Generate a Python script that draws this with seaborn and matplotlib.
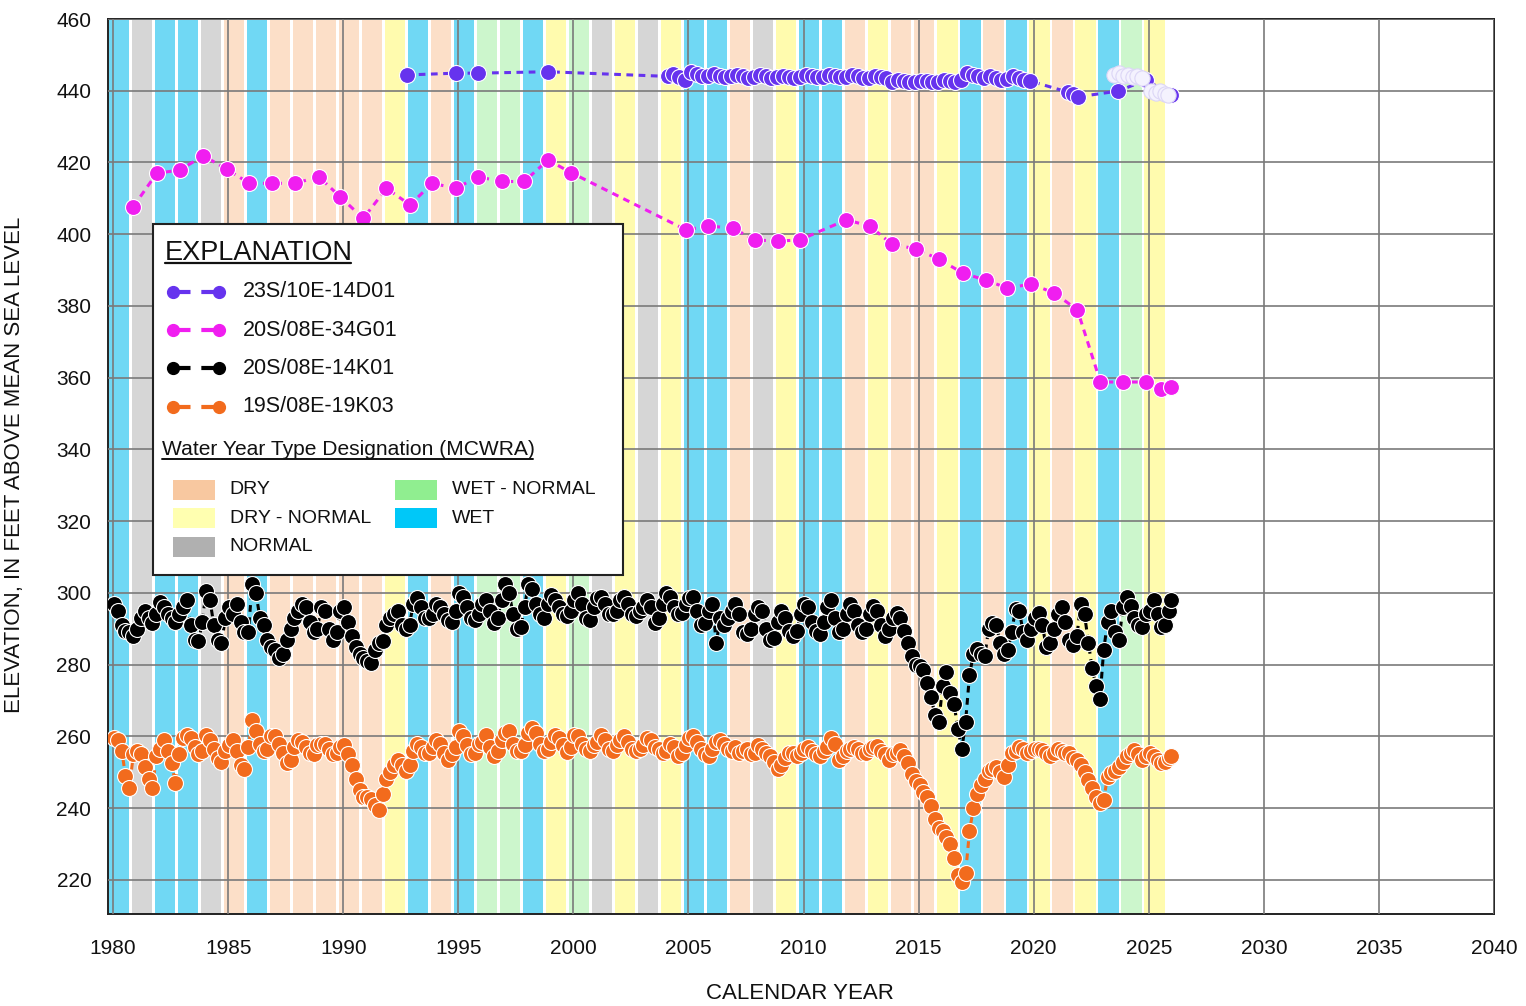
import numpy as np
import pandas as pd
import matplotlib
matplotlib.use("Agg")
import matplotlib.pyplot as plt
from matplotlib.patches import Rectangle
from matplotlib.lines import Line2D
from matplotlib.ticker import MultipleLocator
import seaborn as sns

# ---------------------------------------------------------------------------
# Water-year type designation (MCWRA); a water year N runs Oct (N-1) - Sep N
# ---------------------------------------------------------------------------
water_years = list(range(1980, 2026))
water_year_types = [
    "W", "N", "W", "W", "N", "D", "W", "D", "D", "D",
    "D", "D", "DN", "W", "D", "W", "WN", "WN", "W", "DN",
    "WN", "N", "DN", "N", "DN", "W", "W", "D", "N", "DN",
    "W", "W", "D", "DN", "D", "D", "DN", "W", "D", "W",
    "DN", "D", "DN", "W", "WN", "DN",
]
type_labels = {"D": "DRY", "DN": "DRY - NORMAL", "N": "NORMAL",
               "WN": "WET - NORMAL", "W": "WET"}
swatch_colors = {"D": "#F8C8A0", "DN": "#FFFFB0", "N": "#B0B0B0",
                 "WN": "#90EE90", "W": "#00C8F8"}
band_colors = {"D": "#FCDFC8", "DN": "#FFFBAE", "N": "#D6D6D6",
               "WN": "#CCF6CC", "W": "#70D8F4"}

# ---------------------------------------------------------------------------
# Well 23S/10E-14D01
# ---------------------------------------------------------------------------
d01_early_dates = [1992.75, 1994.89, 1995.86, 1998.90]
d01_early_elev = [444.4, 444.9, 444.9, 445.3]
d01_years = list(range(2004, 2020))
d01_quarter_dates = [0.10, 0.35, 0.60, 0.85]
d01_quarterly = [
    [444.0, 444.6, 443.8, 443.0],  # 2004
    [445.3, 444.8, 444.2, 444.0],  # 2005
    [444.6, 444.2, 443.8, 444.0],  # 2006
    [444.4, 444.0, 443.6, 443.8],  # 2007
    [444.3, 444.0, 443.5, 443.7],  # 2008
    [444.2, 443.8, 443.5, 443.8],  # 2009
    [444.4, 444.1, 443.8, 443.9],  # 2010
    [444.5, 444.2, 443.8, 443.9],  # 2011
    [444.3, 444.0, 443.5, 443.6],  # 2012
    [444.2, 443.8, 443.5, 442.5],  # 2013
    [443.0, 442.6, 442.3, 442.5],  # 2014
    [442.8, 442.6, 442.3, 442.5],  # 2015
    [442.9, 442.7, 442.4, 443.0],  # 2016
    [445.0, 444.5, 444.0, 443.5],  # 2017
    [444.0, 443.5, 443.0, 443.4],  # 2018
    [444.0, 443.5, 443.0, 442.7],  # 2019
]
d01_late_dates = [2021.50, 2021.70, 2021.92, 2023.66, 2024.90, 2025.97]
d01_late_elev = [439.6, 439.0, 438.3, 439.9, 443.0, 438.8]
# provisional readings, shown unfilled
d01_prov_dates = [2023.50, 2023.70, 2023.90, 2024.10, 2024.30, 2024.50, 2024.70,
                  2025.10, 2025.30, 2025.50, 2025.70, 2025.85]
d01_prov_elev = [444.5, 445.0, 444.0, 444.5, 443.8, 444.2, 443.5,
                 440.0, 439.5, 439.8, 439.0, 438.7]

# ---------------------------------------------------------------------------
# Well 20S/08E-34G01 (annual fall readings)
# ---------------------------------------------------------------------------
g01_dates = [1980.88, 1981.90, 1982.91, 1983.92, 1984.94, 1985.92, 1986.89,
             1987.90, 1988.94, 1989.86, 1990.87, 1991.88, 1992.90, 1993.87,
             1994.89, 1995.86, 1996.88, 1997.86, 1998.90, 1999.89, 2004.90,
             2005.84, 2006.93, 2007.88, 2008.88, 2009.83, 2011.86, 2012.87,
             2013.83, 2014.87, 2015.87, 2016.91, 2017.91, 2018.86, 2019.90,
             2020.90, 2021.90, 2022.90, 2023.90, 2024.90, 2025.55, 2025.98]
g01_elev = [407.7, 417.0, 417.9, 421.9, 418.1, 414.2, 414.2, 414.2, 416.0,
            410.5, 404.4, 412.8, 408.2, 414.2, 412.8, 416.0, 414.7, 414.7,
            420.7, 417.2, 401.2, 402.3, 401.7, 398.4, 398.1, 398.4, 404.0,
            402.3, 397.3, 395.9, 393.1, 389.2, 387.2, 385.0, 386.1, 383.6,
            378.9, 358.8, 358.8, 358.8, 356.9, 357.4]

# ---------------------------------------------------------------------------
# Wells 20S/08E-14K01 and 19S/08E-19K03
# bimonthly readings: Jan, Mar, May, Jul, Sep, Nov
# ---------------------------------------------------------------------------
k_years = list(range(1980, 2026))
k_month_dates = [0.04, 0.21, 0.38, 0.54, 0.71, 0.88]
k01_bimonthly = [
    [297, 295, 291, 289.5, 289, 288],        # 1980
    [290, 293, 295, 293, 291.5, 294],        # 1981
    [297.5, 296, 294, 293, 292, 294],        # 1982
    [296, 298, 291, 287, 286.5, 292],        # 1983
    [300.5, 298, 291, 287, 286, 293],        # 1984
    [296, 294, 297, 292, 289, 289],          # 1985
    [302.5, 300, 293, 291, 287, 285],        # 1986
    [284, 282, 283, 287, 290, 293],          # 1987
    [295, 297, 296, 292, 289, 290],          # 1988
    [296, 295, 290, 287, 289, 295],          # 1989
    [296, 292, 288, 285, 283, 282],          # 1990
    [281, 280.5, 284, 286, 286.5, 291],      # 1991
    [293, 294, 295, 291, 290, 291],          # 1992
    [297, 298.5, 296, 293, 293, 294],        # 1993
    [297, 296, 294, 292.5, 292, 295],        # 1994
    [300, 299, 296, 293, 292.5, 294],        # 1995
    [297, 298, 295, 291.5, 293, 298],        # 1996
    [302.5, 300, 294, 290, 290.5, 296],      # 1997
    [302.5, 301, 297, 294, 293, 297],        # 1998
    [299.5, 298, 296, 294, 293.5, 295],      # 1999
    [298, 300, 297, 293, 292.5, 296],        # 2000
    [298.5, 299, 297, 294, 294, 295],        # 2001
    [298, 299, 297, 294, 293.5, 295],        # 2002
    [296, 298, 296, 291.5, 293, 297],        # 2003
    [300, 299, 296, 294, 294.5, 297],        # 2004
    [298.5, 299, 295, 291, 291.5, 295],      # 2005
    [297, 286, 293, 291, 293, 295],          # 2006
    [297, 294, 289, 288.5, 290, 294],        # 2007
    [296, 295, 290, 287, 287.5, 292],        # 2008
    [295, 293, 289.5, 288, 289.5, 294],      # 2009
    [297, 296, 292, 289.5, 288.5, 292],      # 2010
    [296, 298, 293, 289, 290, 294],          # 2011
    [297, 295, 291, 289, 290, 294],          # 2012
    [296.5, 295, 291, 288, 290, 293],        # 2013
    [294.5, 293, 289.5, 286, 282.5, 280],    # 2014
    [279.5, 278.5, 274.8, 271, 266, 264],    # 2015
    [274, 278, 272, 269, 262, 256.5],        # 2016
    [264, 277, 283, 284.5, 283, 282.5],      # 2017
    [290, 291.5, 291, 286, 283, 284],        # 2018
    [289, 295.5, 295, 289, 287, 290],        # 2019
    [293, 294.5, 291, 285, 286, 290],        # 2020
    [294, 296, 292, 287, 285.5, 288],        # 2021
    [297, 294, 286, 279, 274, 270.5],        # 2022
    [284, 292, 295, 289, 287, 296],          # 2023
    [299, 296.5, 293, 291, 290.5, 294],      # 2024
    [295, 298, 294, 290.5, 291, 295],        # 2025
]
k01_last = (2025.98, 298.0)

k03_bimonthly = [
    [259.5, 259, 256, 249, 245.5, 255],      # 1980
    [256, 255, 251.5, 248, 245.5, 254.5],    # 1981
    [256.5, 259, 256, 252.5, 247, 255],      # 1982
    [259.5, 260.5, 259.5, 257, 255, 256],    # 1983
    [260.5, 259, 256.5, 254, 253, 256],      # 1984
    [257.5, 259, 256, 252, 251, 257],        # 1985
    [264.5, 261.5, 258, 256, 256.5, 260],    # 1986
    [260, 258, 255.5, 252.5, 253.5, 257],    # 1987
    [259, 258.5, 257, 255.3, 255, 257.5],    # 1988
    [258, 258, 256.5, 255, 255.5, 257],      # 1989
    [257.5, 255, 252, 248, 245, 243],        # 1990
    [243, 242.5, 241, 239.5, 244, 248],      # 1991
    [250, 252, 253.5, 252, 250.5, 252],      # 1992
    [256, 258, 257, 255.5, 255.5, 257],      # 1993
    [259, 258, 255.5, 253.5, 255, 257],      # 1994
    [261.5, 260, 257.5, 255, 255.5, 258],    # 1995
    [258.5, 260.5, 257, 254.5, 256, 259],    # 1996
    [261, 261.5, 258, 256, 256, 257.5],      # 1997
    [261, 262.3, 261, 258, 256, 256.5],      # 1998
    [258.5, 260.5, 259.5, 257.5, 255.8, 257],  # 1999
    [260.5, 260, 258, 256.5, 256, 257.5],    # 2000
    [258.5, 260.5, 259, 256.5, 256, 257.5],  # 2001
    [259, 260, 258.5, 256.5, 256, 256.5],    # 2002
    [257.5, 259.5, 259, 257, 256.5, 255.5],  # 2003
    [256, 258, 257, 254.5, 255.5, 257.5],    # 2004
    [259.5, 260, 258.5, 256.5, 255, 254.5],  # 2005
    [256.5, 258.5, 259, 258, 256.5, 256],    # 2006
    [257, 255.5, 256, 256.5, 255, 255.5],    # 2007
    [257.5, 256.5, 255.5, 254.5, 253, 251],  # 2008
    [252, 254, 255.3, 255.5, 254.5, 255.5],  # 2009
    [256.5, 257, 256, 255, 254.5, 256],      # 2010
    [257, 259.5, 258, 253.5, 254.5, 256],    # 2011
    [256.5, 257, 256.5, 255.5, 255.3, 256.5],  # 2012
    [257, 257.2, 256, 255, 253.5, 255],      # 2013
    [255.5, 256.2, 254.5, 252.5, 249.5, 247.5],  # 2014
    [246.5, 244.5, 243, 240.5, 237, 234.5],  # 2015
    [233.5, 232, 230, 226, 221.5, 219.5],    # 2016
    [221.8, 233.5, 240, 244, 246.5, 248],    # 2017
    [250.5, 251, 251.6, 250, 248.8, 252],    # 2018
    [255.3, 256, 257, 256.5, 255.5, 256],    # 2019
    [256.5, 256.5, 256.2, 255.5, 254.5, 255.5],  # 2020
    [256.5, 256, 255.5, 255.3, 254, 253.5],  # 2021
    [252, 250, 247.9, 245.5, 243, 241.5],    # 2022
    [242.3, 248.8, 249.7, 250.5, 251.6, 253],  # 2023
    [254.5, 255.5, 256.2, 255, 253.5, 254.5],  # 2024
    [255.3, 254.5, 253.5, 252.5, 253, 254],  # 2025
]
k03_last = (2025.98, 254.5)

series_names = ["23S/10E-14D01", "20S/08E-34G01", "20S/08E-14K01", "19S/08E-19K03"]
series_colors = ["#6633EE", "#F01EF0", "#000000", "#F26B1D"]


def periodic_frame(years, offsets, table, last=None):
    dates, elev = [], []
    for yr, row in zip(years, table):
        for off, val in zip(offsets, row):
            dates.append(yr + off)
            elev.append(val)
    if last is not None:
        dates.append(last[0])
        elev.append(last[1])
    return pd.DataFrame({"date": dates, "elev": elev})


d01 = pd.concat([
    pd.DataFrame({"date": d01_early_dates, "elev": d01_early_elev}),
    periodic_frame(d01_years, d01_quarter_dates, d01_quarterly),
    pd.DataFrame({"date": d01_late_dates, "elev": d01_late_elev}),
], ignore_index=True)
g01 = pd.DataFrame({"date": g01_dates, "elev": g01_elev})
k01 = periodic_frame(k_years, k_month_dates, k01_bimonthly, k01_last)
k03 = periodic_frame(k_years, k_month_dates, k03_bimonthly, k03_last)
d01_prov = pd.DataFrame({"date": d01_prov_dates, "elev": d01_prov_elev})

# ---------------------------------------------------------------------------
# Figure
# ---------------------------------------------------------------------------
sns.set_theme(style="white")
plt.rcParams["font.family"] = ["Liberation Sans", "DejaVu Sans"]

fig = plt.figure(figsize=(15.26, 10.06), dpi=100)
ax = fig.add_axes([108 / 1526, 1 - 914 / 1006, 1386 / 1526, 895 / 1006])
ax.set_xlim(1979.78, 2040)
ax.set_ylim(210.5, 460)

# water-year bands
gap = 0.06
for wy, wtype in zip(water_years, water_year_types):
    ax.axvspan(wy - 0.25 + gap, wy + 0.75 - gap, color=band_colors[wtype],
               lw=0, zorder=0)

# grid
ax.xaxis.set_major_locator(MultipleLocator(5))
ax.xaxis.set_minor_locator(MultipleLocator(1))
ax.yaxis.set_major_locator(MultipleLocator(20))
ax.yaxis.set_minor_locator(MultipleLocator(4))
ax.grid(True, which="major", color="#7a7a7a", lw=1.2, zorder=1)
ax.set_axisbelow(False)
for gl in ax.get_xgridlines() + ax.get_ygridlines():
    gl.set_zorder(1)

line_kw = dict(marker="o", markersize=11.5, markeredgecolor="white",
               markeredgewidth=0.8, linestyle=(0, (2.2, 1.8)), linewidth=2.2,
               estimator=None, sort=True)
for df, col, z in [(k03, series_colors[3], 3), (k01, series_colors[2], 3),
                   (g01, series_colors[1], 4), (d01, series_colors[0], 4)]:
    sns.lineplot(data=df, x="date", y="elev", color=col, ax=ax, zorder=z, **line_kw)

sns.scatterplot(data=d01_prov, x="date", y="elev", ax=ax, s=120,
                facecolor="#F4F2FE", edgecolor="#DCD6F6", linewidth=0.8, zorder=4)

# axes styling
for side in ["left", "bottom", "right", "top"]:
    ax.spines[side].set_color("#222222")
    ax.spines[side].set_linewidth(1.4)
ax.tick_params(axis="both", which="major", direction="out", length=8, width=1.2,
               color="#222222", labelsize=15, pad=4, labelcolor="#111111")
ax.tick_params(axis="x", which="major", pad=10)
ax.tick_params(axis="both", which="minor", direction="out", length=5, width=1.0,
               color="#222222")
ax.set_xlabel("CALENDAR YEAR", fontsize=16, color="#111111")
ax.set_ylabel("ELEVATION, IN FEET ABOVE MEAN SEA LEVEL", fontsize=16,
              color="#111111")
ax.xaxis.set_label_coords(0.4993, -0.077)
ax.yaxis.set_label_coords(-0.0599, 0.5017)


# ---------------------------------------------------------------------------
# Explanation box (positions in axes fraction)
# ---------------------------------------------------------------------------
def fx(px):
    return (px - 108) / 1386


def fy(py):
    return 1 - (py - 19) / 895


box = Rectangle((fx(153), fy(575)), fx(623) - fx(153), fy(224) - fy(575),
                transform=ax.transAxes, facecolor="white", edgecolor="#222222",
                lw=1.5, zorder=10)
ax.add_patch(box)
ax.text(fx(165), fy(260), "EXPLANATION", transform=ax.transAxes, fontsize=19.5,
        va="baseline", ha="left", color="#111111", zorder=11)
ax.add_line(Line2D([fx(165), fx(351)], [fy(263), fy(263)], transform=ax.transAxes,
                   color="#111111", lw=1.6, zorder=11))

row_y = [291.7, 330, 368.3, 406.7]
for name, col, py in zip(series_names, series_colors, row_y):
    ax.add_line(Line2D([fx(172.7), fx(219.3)], [fy(py), fy(py)],
                       transform=ax.transAxes, color=col, lw=3,
                       linestyle=(0, (1.0, 0.0, 3.2, 2.6)), marker="o",
                       markersize=8.5, markeredgecolor=col, zorder=11))
    ax.text(fx(242.7), fy(py), name, transform=ax.transAxes, fontsize=15.5,
            va="center", ha="left", color="#111111", zorder=11)

ax.text(fx(161.7), fy(455), "Water Year Type Designation (MCWRA)",
        transform=ax.transAxes, fontsize=15.1, va="baseline", ha="left",
        color="#111111", zorder=11)
ax.add_line(Line2D([fx(161.7), fx(533.3)], [fy(459.3), fy(459.3)],
                   transform=ax.transAxes, color="#111111", lw=1.4, zorder=11))

patch_layout = [("D", 172.7, 490.0), ("DN", 172.7, 518.3), ("N", 172.7, 546.7),
                ("WN", 395.0, 490.0), ("W", 395.0, 518.3)]
for key, px, py in patch_layout:
    ax.add_patch(Rectangle((fx(px), fy(py + 10)), fx(px + 42.3) - fx(px),
                           fy(py - 10) - fy(py + 10), transform=ax.transAxes,
                           facecolor=swatch_colors[key], lw=0, zorder=11))
    ax.text(fx(px + 57), fy(py), type_labels[key], transform=ax.transAxes,
            fontsize=14, va="center", ha="left", color="#111111", zorder=11)

fig.savefig("out.png", dpi=100, facecolor="white")
